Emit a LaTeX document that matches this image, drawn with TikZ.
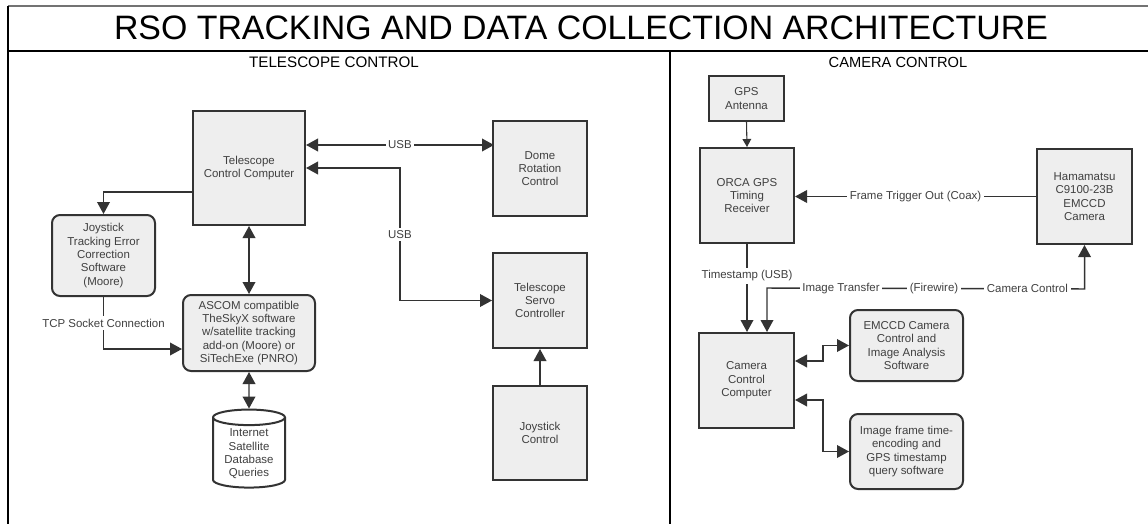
\documentclass[tikz,border=0pt]{standalone}
\usepackage{fontspec}
\setmainfont{Liberation Sans}
\usetikzlibrary{arrows.meta,shapes.geometric,calc}
\definecolor{boxfill}{HTML}{EEEEEE}
\definecolor{edge}{HTML}{333333}
\definecolor{ink}{HTML}{404040}
\begin{document}
\begin{tikzpicture}[x=0.75pt, y=-0.75pt, every node/.style={font=\fontsize{8.6}{10}\selectfont, text=ink}]
        \tikzset{
            box/.style={draw=edge,fill=boxfill,line width=1.5pt,align=center,inner sep=2pt},
            rbox/.style={box,rounded corners=6pt},
            dbs/.style={cylinder,shape border rotate=90,aspect=0.3,draw=edge,fill=white,line width=1.5pt,align=center,minimum width=54pt,minimum height=58.5pt,inner sep=1pt},
            lbl/.style={fill=white,inner sep=2pt},
            arr/.style={draw=edge,line width=1.1pt,-{Triangle[width=9.5pt,length=9pt]}},
            biarr/.style={draw=edge,line width=1.1pt,{Triangle[width=9.5pt,length=9pt]}-{Triangle[width=9.5pt,length=9pt]}},
            frame/.style={line width=1.5pt,black}
        }
        \useasboundingbox (0,0) rectangle (1148,524);
        \clip (0,0) rectangle (1148,524);
        % frame
        \draw[black!55,line width=0.9pt] (8,6) -- (1170,6);
        \draw[frame] (8,6) -- (8,560);
        \draw[frame] (8,51) -- (1170,51);
        \draw[frame] (669.5,51) -- (669.5,560);
        \node[text=black,font=\fontsize{25.4}{30}\selectfont] (title) at (581,27.5) {RSO TRACKING AND DATA COLLECTION ARCHITECTURE};
        \node[text=black,font=\fontsize{11.4}{13}\selectfont] (telhead) at (334,62) {TELESCOPE CONTROL};
        \node[text=black,font=\fontsize{11}{13}\selectfont] (camhead) at (898,62) {CAMERA CONTROL};
        % telescope control
        \node[box,minimum width=84pt,minimum height=85.5pt] (tcc) at (249,168) {Telescope\\Control Computer};
        \node[rbox,minimum width=77.25pt,minimum height=60.75pt] (jtec) at (103.5,255.5) {Joystick\\Tracking Error\\Correction\\Software\\(Moore)};
        \node[rbox,minimum width=99pt,minimum height=57pt] (ascom) at (249,333) {ASCOM compatible\\TheSkyX software\\w/satellite tracking\\add-on (Moore) or\\SiTechExe (PNRO)};
        \node[dbs] (db) at (249,454) {Internet\\Satellite\\Database\\Queries};
        \node[box,minimum width=70.5pt,minimum height=71.25pt] (dome) at (540,168.5) {Dome\\Rotation\\Control};
        \node[box,minimum width=70.5pt,minimum height=71.25pt] (servo) at (540,300.5) {Telescope\\Servo\\Controller};
        \node[box,minimum width=70.5pt,minimum height=70.5pt] (joy) at (540,433) {Joystick\\Control};
        \draw[biarr] ($(tcc.east)+(0,-23)$) -- node[lbl]{USB} ($(tcc.east)+(188,-23)$);
        \draw[biarr] (tcc.east) -- ++(94,0) |- node[lbl,pos=0.25]{USB} (servo.west);
        \draw[arr] ($(tcc.west)+(0,24)$) -| (jtec.north);
        \draw[arr] (jtec.south) |- node[lbl,pos=0.25]{TCP Socket Connection} ($(ascom.west)+(0,16)$);
        \draw[biarr] (tcc.south) -- (ascom.north);
        \draw[biarr] (ascom.south) -- (db.north);
        \draw[arr] (joy.north) -- (servo.south);
        % camera control
        \node[box,minimum width=56.25pt,minimum height=33.75pt] (gps) at (746.5,98.5) {GPS\\Antenna};
        \node[box,minimum width=70.5pt,minimum height=71.25pt] (orca) at (747,195.5) {ORCA GPS\\Timing\\Receiver};
        \node[box,minimum width=71.25pt,minimum height=71.25pt] (ham) at (1084.5,196.5) {Hamamatsu\\C9100-23B\\EMCCD\\Camera};
        \node[box,minimum width=71.25pt,minimum height=71.25pt] (ccc) at (746.5,380.5) {Camera\\Control\\Computer};
        \node[rbox,minimum width=84.75pt,minimum height=53.25pt] (emccd) at (906.5,345.5) {EMCCD Camera\\Control and\\Image Analysis\\Software};
        \node[rbox,minimum width=84.75pt,minimum height=56.25pt] (imgf) at (906.5,451.5) {Image frame time-\\encoding and\\GPS timestamp\\query software};
        \draw[draw=edge,line width=0.8pt,-{Triangle[width=6.5pt,length=6pt]}] (gps.south) -- (orca.north);
        \draw[arr] (ham.west) -- node[lbl]{Frame Trigger Out (Coax)} (ham.west -| orca.east);
        \draw[arr] (orca.south) -- node[lbl,pos=0.36]{Timestamp (USB)} (orca.south |- ccc.north);
        \coordinate (fwr) at ($(ham.south)+(0,44)$);
        \coordinate (fwl) at (767,288);
        \draw[biarr] (ham.south) -- (fwr) -- node[lbl,pos=0.18]{Camera Control} node[lbl,pos=0.474]{(Firewire)} node[lbl,pos=0.767]{Image Transfer} (fwl) -- (fwl |- ccc.north);
        \draw[biarr] ($(ccc.east)+(0,-19.5)$) -- ++(28,0) |- (emccd.west);
        \draw[biarr] ($(ccc.east)+(0,19.5)$) -- ++(28,0) |- (imgf.west);
    \end{tikzpicture}
\end{document}
